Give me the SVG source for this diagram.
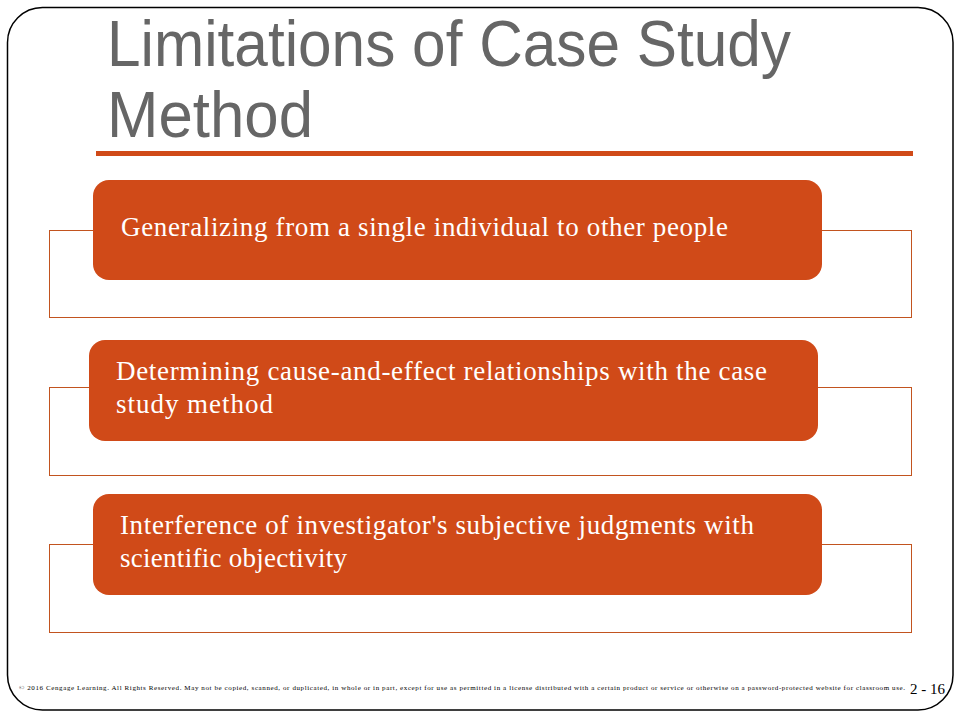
<svg xmlns="http://www.w3.org/2000/svg" width="960" height="720" viewBox="0 0 960 720">
<style>
.frame{fill:#fff;stroke:#000;stroke-width:1.5}
.title{font-family:"Liberation Sans",Arial,sans-serif;font-size:64px;fill:#666666}
.rule{fill:#D04A18}
.outline{fill:#fff;stroke:#C2541F;stroke-width:1}
.box{fill:#D04A18}
.lbl{font-family:"Liberation Serif","Times New Roman",serif;font-size:27px;fill:#ffffff}
.foot{font-family:"Liberation Serif","Times New Roman",serif;font-size:7px;fill:#000}
.num{font-family:"Liberation Serif","Times New Roman",serif;font-size:15px;fill:#000}
</style>
<rect x="0" y="0" width="960" height="720" fill="#fff"/>
<rect class="frame" x="7.5" y="7.5" width="945.5" height="702.5" rx="35" ry="35"/>
<g id="title">
<text class="title" x="107" y="66" textLength="684" lengthAdjust="spacingAndGlyphs">Limitations of Case Study</text>
<text class="title" x="107" y="137" textLength="206" lengthAdjust="spacingAndGlyphs">Method</text>
<rect class="rule" x="96" y="151" width="817" height="5"/>
</g>
<g id="connectors"/>
<g id="item1">
<rect class="outline" x="49.5" y="230.5" width="862" height="87"/>
<rect class="box" x="93" y="180" width="729" height="100" rx="16" ry="16"/>
<text class="lbl" x="121" y="236" textLength="607" lengthAdjust="spacing">Generalizing from a single individual to other people</text>
</g>
<g id="item2">
<rect class="outline" x="49.5" y="387.5" width="862" height="88"/>
<rect class="box" x="89" y="340" width="729" height="101" rx="16" ry="16"/>
<text class="lbl" x="116" y="380" textLength="651" lengthAdjust="spacing">Determining cause-and-effect relationships with the case</text>
<text class="lbl" x="116" y="413" textLength="157" lengthAdjust="spacing">study method</text>
</g>
<g id="item3">
<rect class="outline" x="49.5" y="544.5" width="862" height="88"/>
<rect class="box" x="93" y="494" width="729" height="101" rx="16" ry="16"/>
<text class="lbl" x="120" y="534" textLength="634" lengthAdjust="spacing">Interference of investigator's subjective judgments with</text>
<text class="lbl" x="120" y="567" textLength="227" lengthAdjust="spacing">scientific objectivity</text>
</g>
<g id="footer">
<text class="foot" x="19" y="690" textLength="886" lengthAdjust="spacing">© 2016 Cengage Learning. All Rights Reserved. May not be copied, scanned, or duplicated, in whole or in part, except for use as permitted in a license distributed with a certain product or service or otherwise on a password-protected website for classroom use.</text>
<text class="num" x="910" y="694">2 - 16</text>
</g>
</svg>
